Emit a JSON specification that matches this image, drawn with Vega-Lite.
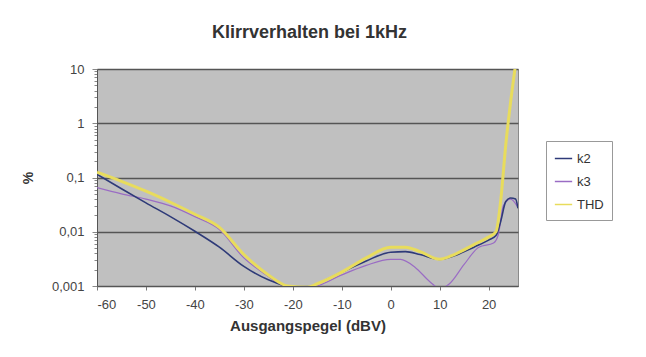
{
  "$schema": "https://vega.github.io/schema/vega-lite/v6.json",
  "width": 421,
  "height": 217,
  "autosize": "none",
  "padding": {"left": 97, "top": 69, "right": 128, "bottom": 71},
  "background": "white",
  "config": {
    "font": "Liberation Sans",
    "view": {"fill": "#c0c0c0", "stroke": "#8a8a8a", "strokeWidth": 1}
  },
  "title": {
    "text": "Klirrverhalten bei 1kHz",
    "fontSize": 18,
    "fontWeight": "bold",
    "color": "#333333",
    "anchor": "middle",
    "offset": 21,
    "dx": 2
  },
  "data": {
    "values": [
      {"series": "k2", "x": -60, "y": 0.115},
      {"series": "k2", "x": -55, "y": 0.062},
      {"series": "k2", "x": -50, "y": 0.034},
      {"series": "k2", "x": -45, "y": 0.019},
      {"series": "k2", "x": -40, "y": 0.0102},
      {"series": "k2", "x": -35, "y": 0.0052},
      {"series": "k2", "x": -30, "y": 0.0023},
      {"series": "k2", "x": -25, "y": 0.0013},
      {"series": "k2", "x": -20, "y": 0.00095},
      {"series": "k2", "x": -17, "y": 0.00093},
      {"series": "k2", "x": -15, "y": 0.0011},
      {"series": "k2", "x": -10, "y": 0.0018},
      {"series": "k2", "x": -5, "y": 0.0029},
      {"series": "k2", "x": 0, "y": 0.0042},
      {"series": "k2", "x": 3, "y": 0.0043},
      {"series": "k2", "x": 6, "y": 0.0038},
      {"series": "k2", "x": 10, "y": 0.0031},
      {"series": "k2", "x": 13, "y": 0.0036},
      {"series": "k2", "x": 17, "y": 0.0052},
      {"series": "k2", "x": 20, "y": 0.007},
      {"series": "k2", "x": 21.5, "y": 0.0085},
      {"series": "k2", "x": 22.5, "y": 0.016},
      {"series": "k2", "x": 23.5, "y": 0.036},
      {"series": "k2", "x": 24.5, "y": 0.042},
      {"series": "k2", "x": 25.5, "y": 0.04},
      {"series": "k2", "x": 26, "y": 0.027},
      {"series": "k3", "x": -60, "y": 0.065},
      {"series": "k3", "x": -55, "y": 0.05},
      {"series": "k3", "x": -50, "y": 0.04},
      {"series": "k3", "x": -45, "y": 0.03},
      {"series": "k3", "x": -40, "y": 0.019},
      {"series": "k3", "x": -35, "y": 0.011},
      {"series": "k3", "x": -30, "y": 0.0033},
      {"series": "k3", "x": -25, "y": 0.0015},
      {"series": "k3", "x": -22, "y": 0.001},
      {"series": "k3", "x": -20, "y": 0.0009},
      {"series": "k3", "x": -17, "y": 0.0009},
      {"series": "k3", "x": -15, "y": 0.001},
      {"series": "k3", "x": -10, "y": 0.0016},
      {"series": "k3", "x": -5, "y": 0.0024},
      {"series": "k3", "x": 0, "y": 0.0031},
      {"series": "k3", "x": 2, "y": 0.0031},
      {"series": "k3", "x": 5, "y": 0.0022},
      {"series": "k3", "x": 8, "y": 0.0012},
      {"series": "k3", "x": 10, "y": 0.0009},
      {"series": "k3", "x": 12, "y": 0.0011},
      {"series": "k3", "x": 15, "y": 0.0025},
      {"series": "k3", "x": 18, "y": 0.0052},
      {"series": "k3", "x": 21, "y": 0.0062},
      {"series": "k3", "x": 22, "y": 0.009},
      {"series": "k3", "x": 23, "y": 0.03},
      {"series": "k3", "x": 24.5, "y": 0.04},
      {"series": "k3", "x": 26, "y": 0.028},
      {"series": "THD", "x": -60, "y": 0.125},
      {"series": "THD", "x": -55, "y": 0.085},
      {"series": "THD", "x": -50, "y": 0.056},
      {"series": "THD", "x": -45, "y": 0.035},
      {"series": "THD", "x": -40, "y": 0.021},
      {"series": "THD", "x": -35, "y": 0.012},
      {"series": "THD", "x": -30, "y": 0.0038},
      {"series": "THD", "x": -25, "y": 0.0016},
      {"series": "THD", "x": -21, "y": 0.001},
      {"series": "THD", "x": -17, "y": 0.00095},
      {"series": "THD", "x": -15, "y": 0.0011},
      {"series": "THD", "x": -10, "y": 0.0018},
      {"series": "THD", "x": -5, "y": 0.0033},
      {"series": "THD", "x": 0, "y": 0.0052},
      {"series": "THD", "x": 3, "y": 0.0052},
      {"series": "THD", "x": 6, "y": 0.0043},
      {"series": "THD", "x": 10, "y": 0.0031},
      {"series": "THD", "x": 13, "y": 0.0038},
      {"series": "THD", "x": 17, "y": 0.0058},
      {"series": "THD", "x": 20, "y": 0.008},
      {"series": "THD", "x": 21.5, "y": 0.01},
      {"series": "THD", "x": 22.5, "y": 0.04},
      {"series": "THD", "x": 23.5, "y": 0.4},
      {"series": "THD", "x": 24.5, "y": 2.5},
      {"series": "THD", "x": 25.5, "y": 12}
    ]
  },
  "encoding": {
    "x": {
      "field": "x",
      "type": "quantitative",
      "scale": {"domain": [-60, 26], "nice": false, "zero": false},
      "axis": {
        "values": [-60, -50, -40, -30, -20, -10, 0, 10, 20],
        "labelExpr": "'' + datum.value",
        "title": "Ausgangspegel (dBV)",
        "titleFontSize": 15,
        "titleFontWeight": "bold",
        "titleColor": "#333333",
        "titlePadding": 7,
        "labelFontSize": 13,
        "labelColor": "#444444",
        "labelPadding": 8,
        "grid": false,
        "domainColor": "#555555",
        "tickColor": "#777777",
        "tickSize": 4
      }
    },
    "y": {
      "field": "y",
      "type": "quantitative",
      "scale": {"type": "log", "domain": [0.001, 10], "nice": false},
      "axis": {
        "values": [0.001, 0.002, 0.003, 0.004, 0.005, 0.006, 0.007, 0.008, 0.009, 0.01, 0.02, 0.03, 0.04, 0.05, 0.06, 0.07, 0.08, 0.09, 0.1, 0.2, 0.3, 0.4, 0.5, 0.6, 0.7, 0.8, 0.9, 1, 2, 3, 4, 5, 6, 7, 8, 9, 10],
        "labelExpr": "abs(log(datum.value)/LN10 - round(log(datum.value)/LN10)) < 0.001 ? replace(format(datum.value, '~g'), '.', ',') : ''",
        "title": "%",
        "titleFontSize": 14,
        "titleFontWeight": "bold",
        "titleColor": "#333333",
        "titlePadding": 16,
        "labelFontSize": 13,
        "labelColor": "#444444",
        "labelPadding": 8,
        "domainColor": "#555555",
        "tickColor": "#888888",
        "tickSize": {"condition": {"test": "abs(log(datum.value)/LN10 - round(log(datum.value)/LN10)) < 0.001", "value": 5}, "value": 3},
        "grid": true,
        "gridColor": "#555555",
        "gridWidth": 1.3,
        "gridOpacity": {"condition": {"test": "abs(log(datum.value)/LN10 - round(log(datum.value)/LN10)) < 0.001", "value": 1}, "value": 0}
      }
    },
    "color": {
      "field": "series",
      "type": "nominal",
      "scale": {"domain": ["k2", "k3", "THD"], "range": ["#2e3a78", "#9a6cc4", "#e8dc5c"]},
      "legend": {
        "title": null,
        "orient": "none",
        "legendX": 449,
        "legendY": 72,
        "fillColor": "white",
        "strokeColor": "#999999",
        "padding": 8,
        "symbolType": "stroke",
        "symbolSize": 300,
        "symbolStrokeWidth": 1.5,
        "labelFontSize": 13,
        "labelColor": "#333333",
        "rowPadding": 6
      }
    },
    "order": {"field": "x", "type": "quantitative"}
  },
  "layer": [
    {
      "transform": [{"filter": "datum.series === 'k3'"}],
      "mark": {"type": "line", "interpolate": "monotone", "clip": true, "strokeWidth": 1.2}
    },
    {
      "transform": [{"filter": "datum.series === 'k2'"}],
      "mark": {"type": "line", "interpolate": "monotone", "clip": true, "strokeWidth": 1.6}
    },
    {
      "transform": [{"filter": "datum.series === 'THD'"}],
      "mark": {"type": "line", "interpolate": "monotone", "clip": true, "strokeWidth": 3}
    }
  ]
}
